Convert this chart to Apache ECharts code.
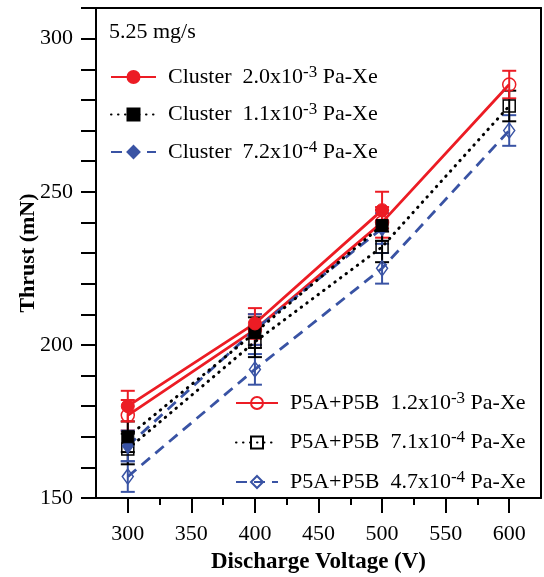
<!DOCTYPE html>
<html>
<head>
<meta charset="utf-8">
<script src="https://cdn.jsdelivr.net/npm/echarts@6/dist/echarts.min.js"></script>
<style>html,body{margin:0;padding:0;background:#fff}#c{width:544px;height:577px}</style>
</head>
<body>
<div id="c"></div>
<script>
// ---- data ----
const clusterVolts = [300, 400, 500];
const p5Volts = [300, 400, 500, 600];

const clusterRed = [180, 207, 244];      // Cluster 2.0e-3
const clusterRedErr = [5, 5, 6];
const clusterBlack = [170, 204, 239];    // Cluster 1.1e-3
const clusterBlackErr = [5, 5, 5];
const clusterBlue = [167, 205, 238];     // Cluster 7.2e-4
const clusterBlueErr = [5, 5, 5];

const p5Red = [177, 205, 240, 285];      // P5A+P5B 1.2e-3
const p5RedErr = [5, 5, 5, 4.5];
const p5Black = [166, 201, 232, 278];    // P5A+P5B 7.1e-4
const p5BlackErr = [5, 5, 5, 5];
const p5Blue = [157, 192, 225, 270];     // P5A+P5B 4.7e-4
const p5BlueErr = [5, 5, 5, 5];

const xMajorTicks = [300, 350, 400, 450, 500, 550, 600];
const xMinorTicks = [325, 375, 425, 475, 525, 575];
const yLabels = [150, 200, 250, 300];

const names = [
  {base: 'Cluster  2.0x10', exp: '-3', unit: ' Pa-Xe'},
  {base: 'Cluster  1.1x10', exp: '-3', unit: ' Pa-Xe'},
  {base: 'Cluster  7.2x10', exp: '-4', unit: ' Pa-Xe'},
  {base: 'P5A+P5B  1.2x10', exp: '-3', unit: ' Pa-Xe'},
  {base: 'P5A+P5B  7.1x10', exp: '-4', unit: ' Pa-Xe'},
  {base: 'P5A+P5B  4.7x10', exp: '-4', unit: ' Pa-Xe'}
];
const fullName = n => n.base + n.exp + n.unit;

// ---- styles ----
const RED = '#ec1c24', BLACK = '#000000', BLUE = '#3953a4';
const FONT = '"Liberation Serif", "Times New Roman", serif';

function pts(xs, ys) { return xs.map((x, i) => [x, ys[i]]); }
function errData(xs, ys, es) { return xs.map((x, i) => [x, ys[i] - es[i], ys[i] + es[i]]); }

function errSeries(xs, ys, es, color) {
  return {
    type: 'custom',
    data: errData(xs, ys, es),
    z: 3,
    silent: true,
    renderItem: function (params, api) {
      const x = api.value(0);
      const lo = api.coord([x, api.value(1)]);
      const hi = api.coord([x, api.value(2)]);
      const w = 7;
      const st = {stroke: color, lineWidth: 2};
      return {
        type: 'group',
        children: [
          {type: 'line', shape: {x1: lo[0], y1: lo[1], x2: hi[0], y2: hi[1]}, style: st},
          {type: 'line', shape: {x1: lo[0] - w, y1: lo[1], x2: lo[0] + w, y2: lo[1]}, style: st},
          {type: 'line', shape: {x1: hi[0] - w, y1: hi[1], x2: hi[0] + w, y2: hi[1]}, style: st}
        ]
      };
    }
  };
}

function lineSeries(name, data, color, lineType, symbol, size, filled, z) {
  return {
    type: 'line',
    name: name,
    data: data,
    z: z,
    symbol: symbol,
    symbolSize: size,
    showAllSymbol: true,
    lineStyle: {color: color, width: lineType === 'dotted' ? 3 : 2.8,
      type: lineType === 'solid' ? 'solid' : (lineType === 'dotted' ? [0.5, 6.5] : [11, 7]),
      cap: lineType === 'dotted' ? 'round' : 'butt'},
    itemStyle: filled ? {color: color, borderColor: color, borderWidth: 1}
                      : {color: 'rgba(255,255,255,0)', borderColor: color, borderWidth: 1.5},
    emphasis: {disabled: true},
    animation: false
  };
}

const series = [
  errSeries(p5Volts, p5Blue, p5BlueErr, BLUE),
  errSeries(p5Volts, p5Black, p5BlackErr, BLACK),
  errSeries(p5Volts, p5Red, p5RedErr, RED),
  errSeries(clusterVolts, clusterBlue, clusterBlueErr, BLUE),
  errSeries(clusterVolts, clusterBlack, clusterBlackErr, BLACK),
  errSeries(clusterVolts, clusterRed, clusterRedErr, RED),
  lineSeries(fullName(names[5]), pts(p5Volts, p5Blue), BLUE, 'dashed', 'diamond', [11, 15], false, 4),
  lineSeries(fullName(names[4]), pts(p5Volts, p5Black), BLACK, 'dotted', 'rect', 12, false, 4),
  lineSeries(fullName(names[3]), pts(p5Volts, p5Red), RED, 'solid', 'circle', 13, false, 4),
  lineSeries(fullName(names[2]), pts(clusterVolts, clusterBlue), BLUE, 'dashed', 'diamond', [11, 15], true, 5),
  lineSeries(fullName(names[1]), pts(clusterVolts, clusterBlack), BLACK, 'dotted', 'rect', 12, true, 5),
  lineSeries(fullName(names[0]), pts(clusterVolts, clusterRed), RED, 'solid', 'circle', 13, true, 5)
];

const richStyles = {
  t: {fontFamily: FONT, fontSize: 22, lineHeight: 26, color: '#000'},
  s: {fontFamily: FONT, fontSize: 17, lineHeight: 16, verticalAlign: 'top', color: '#000'}
};
function fmt(name) {
  const n = names.find(k => fullName(k) === name);
  return '{t|' + n.base + '}{s|' + n.exp + '}{t|' + n.unit + '}';
}

const legendBase = {
  orient: 'vertical',
  selectedMode: false,
  padding: 0,
  itemWidth: 45,
  itemHeight: 15,
  itemGap: 13.5,
  formatter: fmt,
  textStyle: {rich: richStyles, padding: [0, 0, 0, 7]},
  inactiveColor: '#000'
};

const option = {
  animation: false,
  backgroundColor: '#fff',
  grid: {left: 96, right: 3, top: 8, bottom: 79, containLabel: false, outerBoundsMode: 'none'},
  xAxis: [{
    type: 'value', min: 275, max: 625, interval: 25,
    name: 'Discharge Voltage (V)', nameLocation: 'middle', nameGap: 53, nameMoveOverlap: false,
    nameTextStyle: {fontFamily: FONT, fontSize: 23, fontWeight: 'bold', color: '#000'},
    axisLine: {lineStyle: {color: '#000', width: 2}},
    axisTick: {show: true, length: 15, lineStyle: {color: '#000', width: 2}, customValues: xMajorTicks},
    axisLabel: {customValues: xMajorTicks, fontFamily: FONT, fontSize: 22, color: '#000', margin: 25},
    splitLine: {show: false}
  }, {
    type: 'value', min: 275, max: 625, position: 'bottom',
    axisLine: {show: false},
    axisTick: {show: true, length: 7, lineStyle: {color: '#000', width: 2}, customValues: xMinorTicks},
    axisLabel: {show: false},
    splitLine: {show: false}
  }, {
    type: 'value', min: 275, max: 625, position: 'top',
    axisLine: {show: true, lineStyle: {color: '#000', width: 2}},
    axisTick: {show: false}, axisLabel: {show: false}, splitLine: {show: false}
  }],
  yAxis: [{
    type: 'value', min: 150, max: 310, interval: 10,
    name: 'Thrust (mN)', nameLocation: 'middle', nameGap: 57, nameMoveOverlap: false,
    nameTextStyle: {fontFamily: FONT, fontSize: 22, fontWeight: 'bold', color: '#000'},
    axisLine: {show: true, lineStyle: {color: '#000', width: 2}},
    axisTick: {show: true, length: 15, lineStyle: {color: '#000', width: 2}},
    axisLabel: {customValues: yLabels, fontFamily: FONT, fontSize: 22, color: '#000', margin: 23},
    splitLine: {show: false}
  }, {
    type: 'value', min: 150, max: 310, position: 'right',
    axisLine: {show: true, lineStyle: {color: '#000', width: 2}},
    axisTick: {show: false}, axisLabel: {show: false}, splitLine: {show: false}
  }],
  legend: [
    Object.assign({}, legendBase, {left: 110, top: 64, data: [fullName(names[0]), fullName(names[1]), fullName(names[2])]}),
    Object.assign({}, legendBase, {left: 235, top: 390, itemWidth: 42, itemGap: 15.5, data: [fullName(names[3]), fullName(names[4]), fullName(names[5])]})
  ],
  graphic: [{
    type: 'text', left: 109, top: 21,
    style: {text: '5.25 mg/s', font: '22px ' + FONT, fill: '#000'}
  }],
  series: series
};

const chart = echarts.init(document.getElementById('c'), null, {renderer: 'canvas'});
chart.setOption(option);
</script>
</body>
</html>
